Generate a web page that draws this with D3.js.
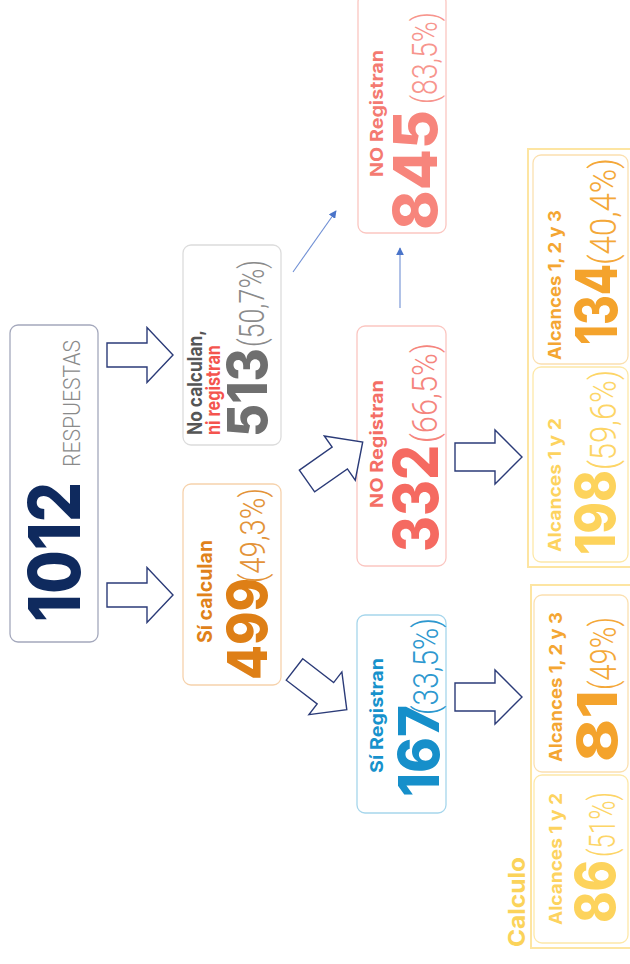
<!DOCTYPE html>
<html><head><meta charset="utf-8">
<script src="https://cdn.jsdelivr.net/npm/d3@7"></script>
<style>body{margin:0;background:#fff}svg{display:block}</style>
</head><body><div id="chart"></div>
<script>
// ---------- DATA ----------
const nodeIds = ["total","noCalc","siCalc","noReg845","noReg332","siReg167","a123_134","a12_198","a123_81","a12_86"];
const nodeValues = [1012, 513, 499, 845, 332, 167, 134, 198, 81, 86];
const nodePercents = [null, "50,7%", "49,3%", "83,5%", "66,5%", "33,5%", "40,4%", "59,6%", "49%", "51%"];
const nodeLabels = [["RESPUESTAS"], ["No calculan,", "ni registran"], ["Sí calculan"], ["NO Registran"], ["NO Registran"], ["Sí Registran"],
  ["Alcances 1, 2 y 3"], ["Alcances 1 y 2"], ["Alcances 1, 2 y 3"], ["Alcances 1 y 2"]];
const groupTitle = "Calculo";

// ---------- LAYOUT (screen px; text rotated -90°) ----------
const W = 630, H = 964;
const layout = {
  total:    {box:[10,325,88,317], stroke:"#a4a8bc", num:[80,622,140,72], numC:"#0f2a5e",
             lab:[[80,467,127,23]], labC:["#8a8a8a"], labW:300},
  noCalc:   {box:[183,245,98,200], stroke:"#dcdcdc", num:[267,437,89,55], numC:"#6f6f6f",
             pct:[264,347,87,35], pctC:"#8a8a8a", lab:[[202,435,105,20],[220,435,90,20]], labC:["#555555","#f4544e"]},
  siCalc:   {box:[183,484,98,201], stroke:"#f6d2ac", num:[267,680,102,55], numC:"#de7f16",
             pct:[265,583,95,35], pctC:"#e39338", lab:[[212,643,103,20]], labC:["#e0821a"]},
  noReg845: {box:[358,-6,88,239], stroke:"#fbc6c1", num:[437,230,120,61], numC:"#f7857c",
             pct:[437,104,92,35], pctC:"#f7958d", lab:[[383,177,127,18]], labC:["#f47a71"]},
  noReg332: {box:[357,326,89,240], stroke:"#fbc6c1", num:[438,552,107,62], numC:"#f56a61",
             pct:[437,443,100,35], pctC:"#f5857d", lab:[[383,508,128,18]], labC:["#f46e65"]},
  siReg167: {box:[357,615,89,198], stroke:"#a6d6ec", num:[439,797,92,57], numC:"#168fca",
             pct:[438,715,97,35], pctC:"#2d98cf", lab:[[383,773,115,18]], labC:["#1792cc"]},
  a123_134: {box:[533,155,95,209], stroke:"#fbe0b0", num:[617,345,81,58], numC:"#f4a32c",
             pct:[616,265,107,36], pctC:"#f4a838", lab:[[561,360,150,18]], labC:["#f4a632"]},
  a12_198:  {box:[533,367,95,195], stroke:"#fde8a8", num:[615,555,85,55], numC:"#fdd35c",
             pct:[616,470,100,36], pctC:"#fdd566", lab:[[561,552,134,18]], labC:["#fdd35f"]},
  a123_81:  {box:[534,595,94,177], stroke:"#fbe0b0", num:[617,762,72,55], numC:"#f4a32c",
             pct:[616,690,73,36], pctC:"#f4a838", lab:[[562,762,150,18]], labC:["#f4a632"]},
  a12_86:   {box:[534,775,94,168], stroke:"#fde8a8", num:[615,923,63,55], numC:"#fdd35c",
             pct:[615,857,65,36], pctC:"#fdd566", lab:[[562,925,132,18]], labC:["#fdd35f"]}
};
const frames = [[528,149,104,418],[531,585,101,363]];
// block arrows: [tailX, tailY, angleDeg, shaftLen, headLen, shaftHalf, headHalf]
const blockArrows = [
  [107,355,0,40,26,12,27.5],
  [107,595,0,40,26,12,27.5],
  [307,481,-35,40,28,13.3,27],
  [294.5,669.5,37.6,39,27,13.5,27],
  [455,457,0,40,27,14,27],
  [455,697,0,40,27,14,27]
];
const thinArrows = [[293,272,336,211],[400,308,400,248]];

// ---------- DRAW ----------
const svg = d3.select("#chart").append("svg").attr("width", W).attr("height", H);
svg.append("defs").append("marker").attr("id","tri").attr("viewBox","0 0 10 10")
  .attr("refX",9).attr("refY",5).attr("markerWidth",7).attr("markerHeight",7).attr("orient","auto")
  .append("path").attr("d","M0,0L10,5L0,10Z").attr("fill","#4a74c9");

const boldFont = "Inter, 'Open Sans', sans-serif";
const lightFont = "Roboto, 'Open Sans', sans-serif";

// outer frames
svg.selectAll("rect.frame").data(frames).join("rect").attr("class","frame")
  .attr("x",d=>d[0]).attr("y",d=>d[1]).attr("width",d=>d[2]).attr("height",d=>d[3])
  .attr("fill","none").attr("stroke","#fde5a2").attr("stroke-width",2);

function rotText(g, spec, str, fill, weight, family){
  const [bx, sy, len, size] = spec;
  g.append("text").attr("transform",`translate(${bx},${sy}) rotate(-90)`)
    .attr("font-family",family).attr("font-weight",weight).attr("font-size",size)
    .attr("fill",fill).attr("textLength",len).attr("lengthAdjust","spacingAndGlyphs")
    .text(str);
}

nodeIds.forEach((id,i)=>{
  const L = layout[id];
  const g = svg.append("g").attr("class","node");
  g.append("rect").attr("x",L.box[0]).attr("y",L.box[1]).attr("width",L.box[2]).attr("height",L.box[3])
    .attr("rx",8).attr("fill","#fff").attr("stroke",L.stroke).attr("stroke-width",1.3);
  rotText(g, L.num, String(nodeValues[i]), L.numC, 800, boldFont);
  if (nodePercents[i]) rotText(g, L.pct, "(" + nodePercents[i] + ")", L.pctC, 300, lightFont);
  nodeLabels[i].forEach((t,j)=> rotText(g, L.lab[j], t, L.labC[j], L.labW || 700, L.labW ? lightFont : boldFont));
});

rotText(svg, [525,947,90,23], groupTitle, "#fbd35a", 700, boldFont);

// block arrows
const arrowLine = d3.line();
blockArrows.forEach(a=>{
  const [tx,ty,ang,sl,hl,sh,hh] = a;
  const pts = [[0,-sh],[sl,-sh],[sl,-hh],[sl+hl,0],[sl,hh],[sl,sh],[0,sh]];
  svg.append("path").attr("d", arrowLine(pts) + "Z")
    .attr("transform",`translate(${tx},${ty}) rotate(${ang})`)
    .attr("fill","#fff").attr("stroke","#2b3b78").attr("stroke-width",1.4).attr("stroke-linejoin","miter");
});

// thin arrows
svg.selectAll("line.thin").data(thinArrows).join("line").attr("class","thin")
  .attr("x1",d=>d[0]).attr("y1",d=>d[1]).attr("x2",d=>d[2]).attr("y2",d=>d[3])
  .attr("stroke","#6f8fd4").attr("stroke-width",1.1).attr("marker-end","url(#tri)");
</script></body></html>
